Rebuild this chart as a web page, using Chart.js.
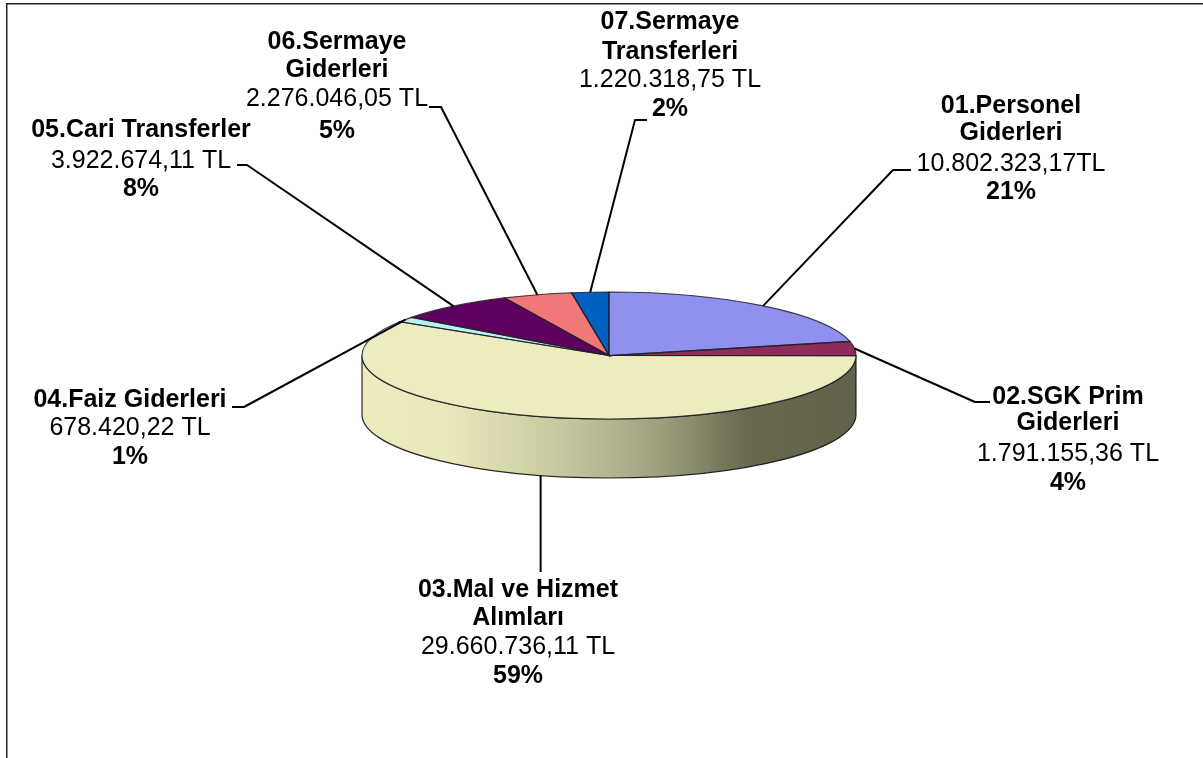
<!DOCTYPE html>
<html lang="tr">
<head>
<meta charset="utf-8">
<title>Giderler</title>
<script src="https://cdn.jsdelivr.net/npm/chart.js@4"></script>
<style>html,body{margin:0;padding:0;background:#fff}canvas{display:block}</style>
</head>
<body>
<canvas id="c" width="1203" height="758"></canvas>
<script>
const categories = ["01.Personel Giderleri","02.SGK Prim Giderleri","03.Mal ve Hizmet Alımları","04.Faiz Giderleri","05.Cari Transferler","06.Sermaye Giderleri","07.Sermaye Transferleri"];
const values = [10802323.17,1791155.36,29660736.11,678420.22,3922674.11,2276046.05,1220318.75];
const nameLines = [["01.Personel","Giderleri"],["02.SGK Prim","Giderleri"],["03.Mal ve Hizmet","Alımları"],["04.Faiz Giderleri"],["05.Cari Transferler"],["06.Sermaye","Giderleri"],["07.Sermaye","Transferleri"]];
const valueLabels = ["10.802.323,17TL","1.791.155,36 TL","29.660.736,11 TL","678.420,22 TL","3.922.674,11 TL","2.276.046,05 TL","1.220.318,75 TL"];
const percentLabels = ["21%","4%","59%","1%","8%","5%","2%"];
const colors = ["#9090EE","#902C5C","#ECECBE","#B8F0F0","#5F005F","#F07878","#0060C0"];

// Layout of the flattened pie and of the label blocks
const PIE = {cx:609, cy:355.5, r:247, ry:63.5, depth:59};
const labelLayout = [
  {x:1011, ys:[106,133,164,192], elbow:[893,170], end:[911,170]},
  {x:1068, ys:[397,423,454,483], elbow:[975,402], end:[990,402]},
  {x:518,  ys:[590,618,647,676], elbow:[541,530], end:[541,572]},
  {x:130,  ys:[400,428,457],     elbow:[244,407], end:[232,407]},
  {x:141,  ys:[130,161,189],     elbow:[247,165], end:[237,165]},
  {x:337,  ys:[42,70,99,131],    elbow:[441,107], end:[429,107]},
  {x:670,  ys:[22,52,80,109],    elbow:[635,120], end:[647,120]}
];
const FONT = '"Liberation Sans", Arial, sans-serif';
const FONT_SIZE = 25;

const squash = PIE.ry / PIE.r;

const pie3d = {
  id:'pie3d',
  beforeDraw(chart){
    const ctx = chart.ctx;
    ctx.save();
    ctx.strokeStyle = '#222';
    ctx.lineWidth = 1.5;
    ctx.beginPath();
    ctx.moveTo(6.75,758);
    ctx.lineTo(6.75,3.75);
    ctx.lineTo(1203,3.75);
    ctx.stroke();
    ctx.restore();
  },
  beforeDatasetsDraw(chart){
    const ctx = chart.ctx;
    const arcs = chart.getDatasetMeta(0).data;
    const cx = arcs[0].x, r = arcs[0].outerRadius;
    const cy = PIE.cy, ry = r*squash, d = PIE.depth;
    const grad = ctx.createLinearGradient(cx-r,0,cx+r,0);
    grad.addColorStop(0,'#ECECBE');
    grad.addColorStop(0.18,'#E8E8BA');
    grad.addColorStop(0.4,'#C8C8A0');
    grad.addColorStop(0.6,'#A0A080');
    grad.addColorStop(0.78,'#68684F');
    grad.addColorStop(1,'#62624C');
    ctx.save();
    arcs.forEach((a,i)=>{
      const s = Math.max(a.startAngle, 0), e = Math.min(a.endAngle, Math.PI);
      const s2 = Math.max(a.startAngle-2*Math.PI,0), e2 = Math.min(a.endAngle-2*Math.PI,Math.PI);
      [[s,e],[s2,e2]].forEach(([p,q])=>{
        if(q<=p) return;
        ctx.beginPath();
        ctx.ellipse(cx,cy,r,ry,0,p,q,false);
        ctx.ellipse(cx,cy+d,r,ry,0,q,p,true);
        ctx.closePath();
        ctx.fillStyle = grad;
        ctx.fill();
      });
    });
    // outline of the visible wall
    ctx.beginPath();
    ctx.ellipse(cx,cy,r,ry,0,0,Math.PI,false);
    ctx.ellipse(cx,cy+d,r,ry,0,Math.PI,0,true);
    ctx.closePath();
    ctx.strokeStyle='rgba(20,20,20,.9)';
    ctx.lineWidth=1.2;
    ctx.stroke();
    ctx.restore();
    ctx.save();
    ctx.translate(0,cy);
    ctx.scale(1,squash);
    ctx.translate(0,-arcs[0].y);
  },
  afterDatasetsDraw(chart){
    const ctx = chart.ctx;
    ctx.restore();
    const arcs = chart.getDatasetMeta(0).data;
    const cx = arcs[0].x, r = arcs[0].outerRadius, cy = PIE.cy, ry = r*squash;
    ctx.save();
    ctx.strokeStyle='rgba(30,30,40,.85)';
    ctx.lineWidth=1.2;
    arcs.forEach(a=>{
      ctx.beginPath();
      ctx.moveTo(cx,cy);
      ctx.ellipse(cx,cy,r,ry,0,a.startAngle,a.endAngle,false);
      ctx.closePath();
      ctx.stroke();
    });
    ctx.restore();
    // leader lines, anchored on each slice's mid angle
    ctx.save();
    ctx.strokeStyle='#000';
    ctx.lineWidth=2;
    ctx.lineJoin='round';
    arcs.forEach((a,i)=>{
      const mid=(a.startAngle+a.endAngle)/2;
      const ax=cx+r*Math.cos(mid);
      let ay=cy+ry*Math.sin(mid);
      if(Math.sin(mid)>0 && i===2) ay+=PIE.depth;
      const L=labelLayout[i];
      ctx.beginPath();
      ctx.moveTo(ax,ay);
      if(i!==2) ctx.lineTo(L.elbow[0],L.elbow[1]);
      else ctx.lineTo(ax,L.end[1]);
      if(i!==2) ctx.lineTo(L.end[0],L.end[1]);
      ctx.stroke();
    });
    ctx.restore();
    // label text
    ctx.save();
    ctx.fillStyle='#000';
    ctx.textAlign='center';
    ctx.textBaseline='middle';
    labelLayout.forEach((L,i)=>{
      const lines=[...nameLines[i].map(t=>[t,true]),[valueLabels[i],false],[percentLabels[i],true]];
      lines.forEach(([t,b],k)=>{
        ctx.font=(b?'bold ':'')+FONT_SIZE+'px '+FONT;
        ctx.fillText(t,L.x,L.ys[k]);
      });
    });
    ctx.restore();
  }
};

new Chart(document.getElementById('c'),{
  type:'pie',
  data:{labels:categories,datasets:[{data:values,backgroundColor:colors,borderWidth:0,clip:false}]},
  options:{
    responsive:false,
    animation:false,
    events:[],
    layout:{padding:{left:PIE.cx-PIE.r,right:1203-PIE.cx-PIE.r,top:PIE.cy-PIE.r,bottom:758-PIE.cy-PIE.r}},
    plugins:{legend:{display:false},tooltip:{enabled:false},title:{display:false}}
  },
  plugins:[pie3d]
});
</script>
</body>
</html>
